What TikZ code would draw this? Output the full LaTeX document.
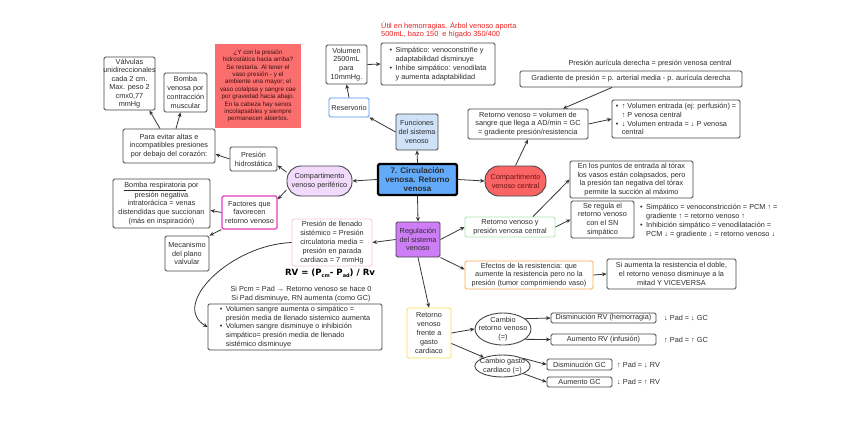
\documentclass[tikz,border=0pt]{standalone}
\usepackage{fontspec}
\setmainfont{Liberation Sans}
\newfontfamily\rvfont{DejaVu Sans}
\usetikzlibrary{arrows.meta,shapes.geometric}
\definecolor{txt}{RGB}{45,45,45}
\definecolor{boxc}{RGB}{70,70,70}
\definecolor{linec}{RGB}{55,55,55}
\definecolor{cblue}{RGB}{98,170,250}
\definecolor{lblue}{RGB}{207,226,248}
\definecolor{rblue}{RGB}{80,150,240}
\definecolor{cred}{RGB}{235,30,30}
\definecolor{nred}{RGB}{250,110,110}
\definecolor{pred}{RGB}{250,100,100}
\definecolor{lviol}{RGB}{242,218,252}
\definecolor{viol}{RGB}{205,125,245}
\definecolor{magb}{RGB}{228,60,190}
\definecolor{pinkb}{RGB}{250,200,200}
\definecolor{greenb}{RGB}{170,230,170}
\definecolor{orangeb}{RGB}{250,170,80}
\definecolor{yellowb}{RGB}{250,220,80}
\newcommand\bulx{\makebox[6pt][l]{•}}
\newcommand\indx{\hspace*{6pt}}
\begin{document}
\begin{tikzpicture}[x=1pt,y=-1pt,
  base/.style={font=\fontsize{7.3}{8.8}\selectfont, text=txt, align=center, inner sep=1pt},
  bx/.style={base, draw=boxc, line width=0.9pt, rounded corners=1.5pt},
  sz/.style 2 args={minimum width=#1, minimum height=#2},
  arr/.style={draw=linec, line width=0.8pt, -{Stealth[length=4.5pt,width=4pt]}},
  pill/.style={bx, rounded corners=14pt},
  ell/.style={base, draw=boxc, line width=0.9pt, ellipse},
]
\useasboundingbox[fill=white] (0,0) rectangle (848,424);

% centre
\node[bx, line width=2.4pt, draw=black, fill=cblue, sz={79pt}{31pt}, inner sep=0pt, font=\bfseries\fontsize{8.1}{9}\selectfont] (central) at (417.5,179.5) {7. Circulación\\venosa. Retorno\\venosa};

% top branch
\node[bx, fill=lblue, draw=boxc, sz={42pt}{36pt}, inner sep=0pt] (func) at (417,132) {Funciones\\del sistema\\venoso};
\node[bx, draw=rblue, sz={40pt}{19pt}, inner sep=0pt] (reserv) at (349,107.5) {Reservorio};
\node[bx, sz={41pt}{39pt}] (vol) at (346.5,64.5) {Volumen\\2500mL\\para\\10mmHg.};
\node[bx, align=left, sz={114pt}{42pt}] (simp) at (438,64) {\bulx Simpático: venoconstriñe y\\\indx adaptabilidad disminuye\\\bulx Inhibe simpático: venodilata\\\indx y aumenta adaptabilidad};
\node[base, anchor=west, align=left, text=cred, font=\fontsize{7.4}{8.8}\selectfont] (util) at (380,30) {Útil en hemorragias. Árbol venoso aporta\\500mL, bazo 150~~e hígado 350/400};

% right branch
\node[pill, fill=pred, text={rgb,255:red,110;green,20;blue,20}, sz={61pt}{30pt}, inner sep=0pt] (ccent) at (515.5,181) {Compartimento\\venoso central};
\node[bx, sz={120pt}{30pt}] (retdef) at (528,124) {Retorno venoso = volumen de\\sangre que llega a AD/min = GC\\= gradiente presión/resistencia};
\node[base] (pad) at (650,64) {Presión aurícula derecha = presión venosa central};
\node[bx, sz={222pt}{16pt}] (grad) at (631,79) {Gradiente de presión = p. arterial media - p. aurícula derecha};
\node[bx, align=left, sz={128pt}{38pt}] (volent) at (676,119) {\bulx ↑ Volumen entrada (ej: perfusión) =\\\indx ↑ P venosa central\\\bulx ↓ Volumen entrada = ↓ P venosa\\\indx central};

% left branch
\node[pill, fill=lviol, sz={65pt}{30pt}, inner sep=0pt] (cperi) at (319.5,181) {Compartimento\\venoso periférico};
\node[bx, sz={47pt}{24pt}, inner sep=0pt] (hidro) at (253.5,159) {Presión\\hidrostática};
\node[bx, sz={92pt}{34pt}, inner sep=0pt] (evitar) at (169,146) {Para evitar altas e\\incompatibles presiones\\por debajo del corazón:};
\node[bx, sz={51pt}{53pt}, inner sep=0pt, font=\fontsize{7.3}{8.5}\selectfont] (valv) at (129.5,83.5) {Válvulas\\\makebox[46pt]{unidireccionales}\\cada 2 cm.\\Max. peso 2\\cmx0,77\\mmHg};
\node[bx, sz={43pt}{39pt}, inner sep=0pt] (bombav) at (185.5,92.5) {Bomba\\venosa por\\contracción\\muscular};
\node[base, fill=nred, sz={86pt}{84pt}, inner sep=0pt, text={rgb,255:red,60;green,15;blue,15}, font=\fontsize{6.3}{7.35}\selectfont] (nota) at (258,86) {¿Y con la presión\\hidrostática hacia arriba?\\Se restaría. Al tener el\\vaso presión - y el\\ambiente una mayor; el\\vaso colalpsa y sangre cae\\por gravedad hacia abajo.\\En la cabeza hay senos\\incolapsables y siempre\\permanecen abiertos.};
\node[bx, draw=magb, line width=1.2pt, sz={55pt}{33pt}, inner sep=0pt] (factores) at (249.5,212.5) {Factores que\\favorecen\\retorno venoso};
\node[bx, sz={97pt}{49pt}, inner sep=0pt] (bresp) at (161.5,203.5) {\underline{Bomba respiratoria} por\\presión negativa\\intratorácica = venas\\distendidas que succionan\\(más en inspiración)};
\node[bx, sz={44pt}{35pt}, inner sep=0pt] (mecan) at (187,253.5) {Mecanismo\\del plano\\valvular};

% bottom branch
\node[bx, fill=viol, sz={44pt}{35pt}, inner sep=0pt] (regul) at (418,239.5) {Regulación\\del sistema\\venoso};
\node[bx, draw=pinkb, sz={80pt}{47pt}, inner sep=0pt] (pcm) at (332,242.5) {Presión de llenado\\sistémico = Presión\\circulatoria media =\\presión en parada\\cardiaca = 7 mmHg};
\node[base, text=black, font=\rvfont\bfseries\fontsize{8.6}{10}\selectfont] (rv) at (330,273) {RV = (P\raisebox{-1.6pt}{\fontsize{5}{5}\selectfont cm}- P\raisebox{-1.6pt}{\fontsize{5}{5}\selectfont ad}) / Rv};
\node[base, font=\fontsize{7.3}{9.2}\selectfont] (sipcm) at (301,294) {Si Pcm = Pad → Retorno venoso se hace 0\\Si Pad disminuye, RN aumenta (como GC)};
\node[bx, align=left, sz={174pt}{46pt}, inner sep=0pt] (sangre) at (295,327) {\bulx Volumen sangre aumenta o simpático =\\\indx presión media de llenado sistemico aumenta\\\bulx Volumen sangre disminuye o inhibición\\\indx simpático= presión media de llenado\\\indx sistémico disminuye};

\node[bx, draw=greenb, sz={90pt}{20pt}, inner sep=0pt] (green) at (510,227) {Retorno venoso y\\presión venosa central};
\node[bx, sz={123pt}{37pt}, inner sep=0pt] (torax) at (631.5,179.5) {En los puntos de entrada al tórax\\los vasos están colapsados, pero\\la presión tan negativa del tórax\\permite la succión al máximo};
\node[bx, sz={63pt}{37pt}, inner sep=0pt] (sereg) at (602.5,219.5) {Se regula el\\retorno venoso\\con el SN\\simpático};
\node[base, anchor=west, align=left] (simpb) at (639,221) {\bulx Simpático = venoconstricción = PCM ↑ =\\\indx gradiente ↑ = retorno venoso ↑\\\bulx Inhibición simpático = venodilatación =\\\indx PCM ↓ = gradiente ↓ = retorno venoso ↓};

\node[bx, draw=orangeb, sz={128pt}{28pt}, inner sep=0pt] (efect) at (529,275) {Efectos de la resistencia: que\\aumente la resistencia pero no la\\presión (tumor comprimiendo vaso)};
\node[bx, sz={129pt}{30pt}, inner sep=0pt] (siaum) at (671.5,274) {Si aumenta la resistencia el doble,\\el retorno venoso disminuye a la\\mitad Y VICEVERSA};

\node[bx, draw=yellowb, sz={44pt}{50pt}, inner sep=0pt] (rvgc) at (429,333) {Retorno\\venoso\\frente a\\gasto\\cardiaco};
\node[ell, inner xsep=-5pt, inner ysep=-1.2pt, sz={56pt}{32pt}] (ell1) at (503,329) {Cambio\\retorno venoso\\(=)};
\node[ell, inner xsep=-3pt, inner ysep=-0.4pt, sz={55pt}{22pt}] (ell2) at (502.5,366) {Cambio gasto\\cardiaco (=)};
\node[bx, inner sep=0pt, sz={105pt}{10pt}] (disrv) at (603.5,318) {Disminución RV (hemorragia)};
\node[bx, inner sep=0pt, sz={105pt}{11pt}] (aumrv) at (603.5,339.5) {Aumento RV (infusión)};
\node[bx, inner sep=0pt, sz={65pt}{11pt}] (disgc) at (579.5,364.5) {Disminución GC};
\node[bx, inner sep=0pt, sz={65pt}{10pt}] (aumgc) at (579.5,382) {Aumento GC};
\node[base, anchor=west] (t1) at (663,318) {↓ Pad = ↓ GC};
\node[base, anchor=west] (t2) at (663,339.5) {↑ Pad = ↑ GC};
\node[base, anchor=west] (t3) at (616,364.5) {↑ Pad = ↓ RV};
\node[base, anchor=west] (t4) at (616,382) {↓ Pad = ↑ RV};

% connectors
\draw[arr] (central.north) -- (func.south);
\draw[arr] (func.west) -- (reserv.south east);
\draw[arr] (reserv.north) -- (vol.south);
\draw[arr] (vol.east) -- (simp.west);
\draw[arr] (central.east) -- (ccent.west);
\draw[arr] (ccent.north) -- (retdef.south);
\draw[arr] ([xshift=-19pt]grad.south) -- ([xshift=35pt]retdef.north);
\draw[arr] (retdef.east) -- (volent.west);
\draw[arr] (central.west) -- (cperi.east);
\draw[arr] (cperi.165) -- (hidro.-15);
\draw[arr] (cperi.195) -- (factores.25);
\draw[arr] (hidro.west) -- (evitar.-10);
\draw[arr] ([xshift=-9pt]evitar.north) -- ([xshift=20pt]valv.south);
\draw[arr] ([xshift=7pt]evitar.north) -- ([xshift=-5pt]bombav.south);
\draw[arr] (factores.west) -- (bresp.-8);
\draw[arr] (factores.south west) -- (mecan.north east);
\draw[arr] (central.south) -- (regul.north);
\draw[arr] (regul.west) -- (pcm.east);
\draw[arr] (pcm.west) .. controls (230,245) and (170,305) .. (sangre.west);
\draw[arr] (regul.east) -- (green.west);
\draw[arr] ([xshift=23pt]green.north) -- (torax.west);
\draw[arr] (green.east) -- (sereg.west);
\draw[arr] (regul.south east) -- (efect.175);
\draw[arr] (efect.east) -- (siaum.west);
\draw[arr] (regul.south) -- (rvgc.north);
\draw[arr] (rvgc.east) -- (ell1.west);
\draw[arr] (rvgc.-25) -- (ell2.155);
\draw[arr] (ell1.25) -- (disrv.west);
\draw[arr] (ell1.-25) -- (aumrv.west);
\draw[arr] (ell2.20) -- (disgc.west);
\draw[arr] (ell2.-20) -- (aumgc.west);
\end{tikzpicture}
\end{document}
